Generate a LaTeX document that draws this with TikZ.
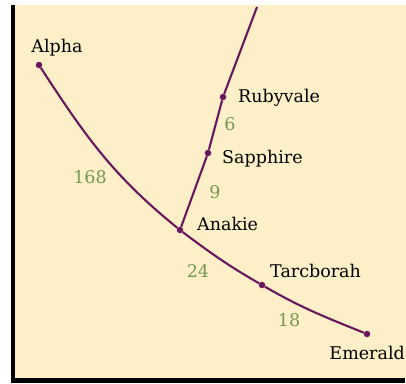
\documentclass[tikz,border=0pt]{standalone}
\usepackage{fontspec}
\setmainfont{DejaVu Serif}
\definecolor{cream}{RGB}{253,240,200}
\definecolor{route}{RGB}{105,22,92}
\definecolor{dist}{RGB}{118,150,84}
\tikzset{
  town/.style={circle, fill=route, inner sep=0pt, minimum size=6.5pt},
  lbl/.style={anchor=base west, inner sep=0pt, text=black, font=\fontsize{17.5}{20}\selectfont},
  km/.style={anchor=base, inner sep=0pt, text=dist, font=\fontsize{17.5}{20}\selectfont},
  road/.style={draw=route, line width=2.1pt}
}
\begin{document}
\begin{tikzpicture}[x=1pt,y=1pt]
\useasboundingbox (0,-383) rectangle (406,0);
\fill[white] (0,-383) rectangle (406,0);
\fill[cream] (13,-378) rectangle (406,-5);
\fill[black] (11,-383) rectangle (15,-5);
\fill[black] (11,-383) rectangle (405,-378);
% towns
\node[town] (alpha) at (39,-65) {};
\node[town] (anakie) at (180,-230) {};
\node[town] (sapphire) at (208,-153) {};
\node[town] (rubyvale) at (223,-97) {};
\node[town] (tarc) at (262,-285) {};
\node[town] (emerald) at (367,-334) {};
\coordinate (north) at (257,-7);
% roads
\draw[road] (alpha) to[out=-57,in=141] (anakie);
\draw[road] (anakie) to[out=-37,in=150] (tarc);
\draw[road] (tarc) to[out=-30,in=158] (emerald);
\draw[road] (anakie) -- (sapphire);
\draw[road] (sapphire) -- (rubyvale);
\draw[road] (rubyvale) -- (north);
% labels
\node[lbl, anchor=base] (alphaL) at (57,-52) {Alpha};
\node[lbl] (rubyL) at (238,-102) {Rubyvale};
\node[lbl] (sappL) at (222,-163) {Sapphire};
\node[lbl] (anakL) at (197,-230) {Anakie};
\node[lbl] (tarcL) at (270,-277) {Tarcborah};
\node[lbl, anchor=base east] (emL) at (405,-359) {Emerald};
% distances
\node[km] (d168) at (90,-183) {168};
\node[km] (d6) at (230,-130) {6};
\node[km] (d9) at (215,-198) {9};
\node[km] (d24) at (198,-277) {24};
\node[km] (d18) at (289,-326) {18};
\end{tikzpicture}
\end{document}
